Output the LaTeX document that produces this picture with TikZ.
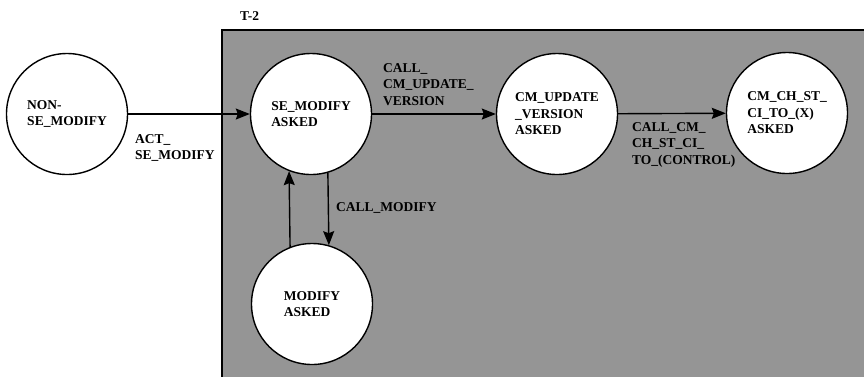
\documentclass[tikz,border=0pt]{standalone}
\usepackage{fontspec}
\setmainfont{Liberation Serif}
\usetikzlibrary{arrows.meta}
\definecolor{boxgray}{HTML}{959595}
\begin{document}
\begin{tikzpicture}[x=1pt,y=-1pt,
  state/.style={draw,circle,fill=white,line width=1.4pt,minimum size=121pt,inner sep=0pt,align=left,font=\bfseries\fontsize{13.5}{16.5}\selectfont},
  lbl/.style={anchor=north west,inner sep=0pt,align=left,font=\bfseries\fontsize{13.5}{16.5}\selectfont},
  arr/.style={line width=1.4pt,-{Stealth[length=14pt,width=11pt,inset=2pt]}}]
\path[use as bounding box] (0,0) rectangle (864,376);
\begin{scope}
\clip (0,0) rectangle (864,376);
\draw[fill=boxgray,line width=1.4pt] (222,30) rectangle (870,382);
\end{scope}
\node[lbl] (t2) at (240,11) {T-2};
% states
\node[state] (nonse) at (67,114) {NON-\\SE\_MODIFY};
\node[state] (seask) at (311,114) {SE\_MODIFY\\ASKED};
\node[state] (cmupd) at (557,114) {CM\_UPDATE\\\_VERSION\\ASKED};
\node[state] (cmch) at (787,113) {CM\_CH\_ST\_\\CI\_TO\_(X)\\ASKED};
\node[state] (modask) at (312,304) {MODIFY\\ASKED};
% transitions
\draw[arr] (nonse) -- (seask);
\draw[arr] (seask) -- (cmupd);
\draw[arr] (cmupd) -- (cmch);
\draw[arr] (modask.111) -- (seask.249);
\draw[arr] (seask.286) -- (modask.74);
% labels
\node[lbl] (lact) at (135,134) {ACT\_\\SE\_MODIFY};
\node[lbl] (lupd) at (383,63) {CALL\_\\CM\_UPDATE\_\\VERSION};
\node[lbl] (lch) at (632,122) {CALL\_CM\_\\CH\_ST\_CI\_\\TO\_(CONTROL)};
\node[lbl] (lmod) at (336,202) {CALL\_MODIFY};
\end{tikzpicture}
\end{document}
